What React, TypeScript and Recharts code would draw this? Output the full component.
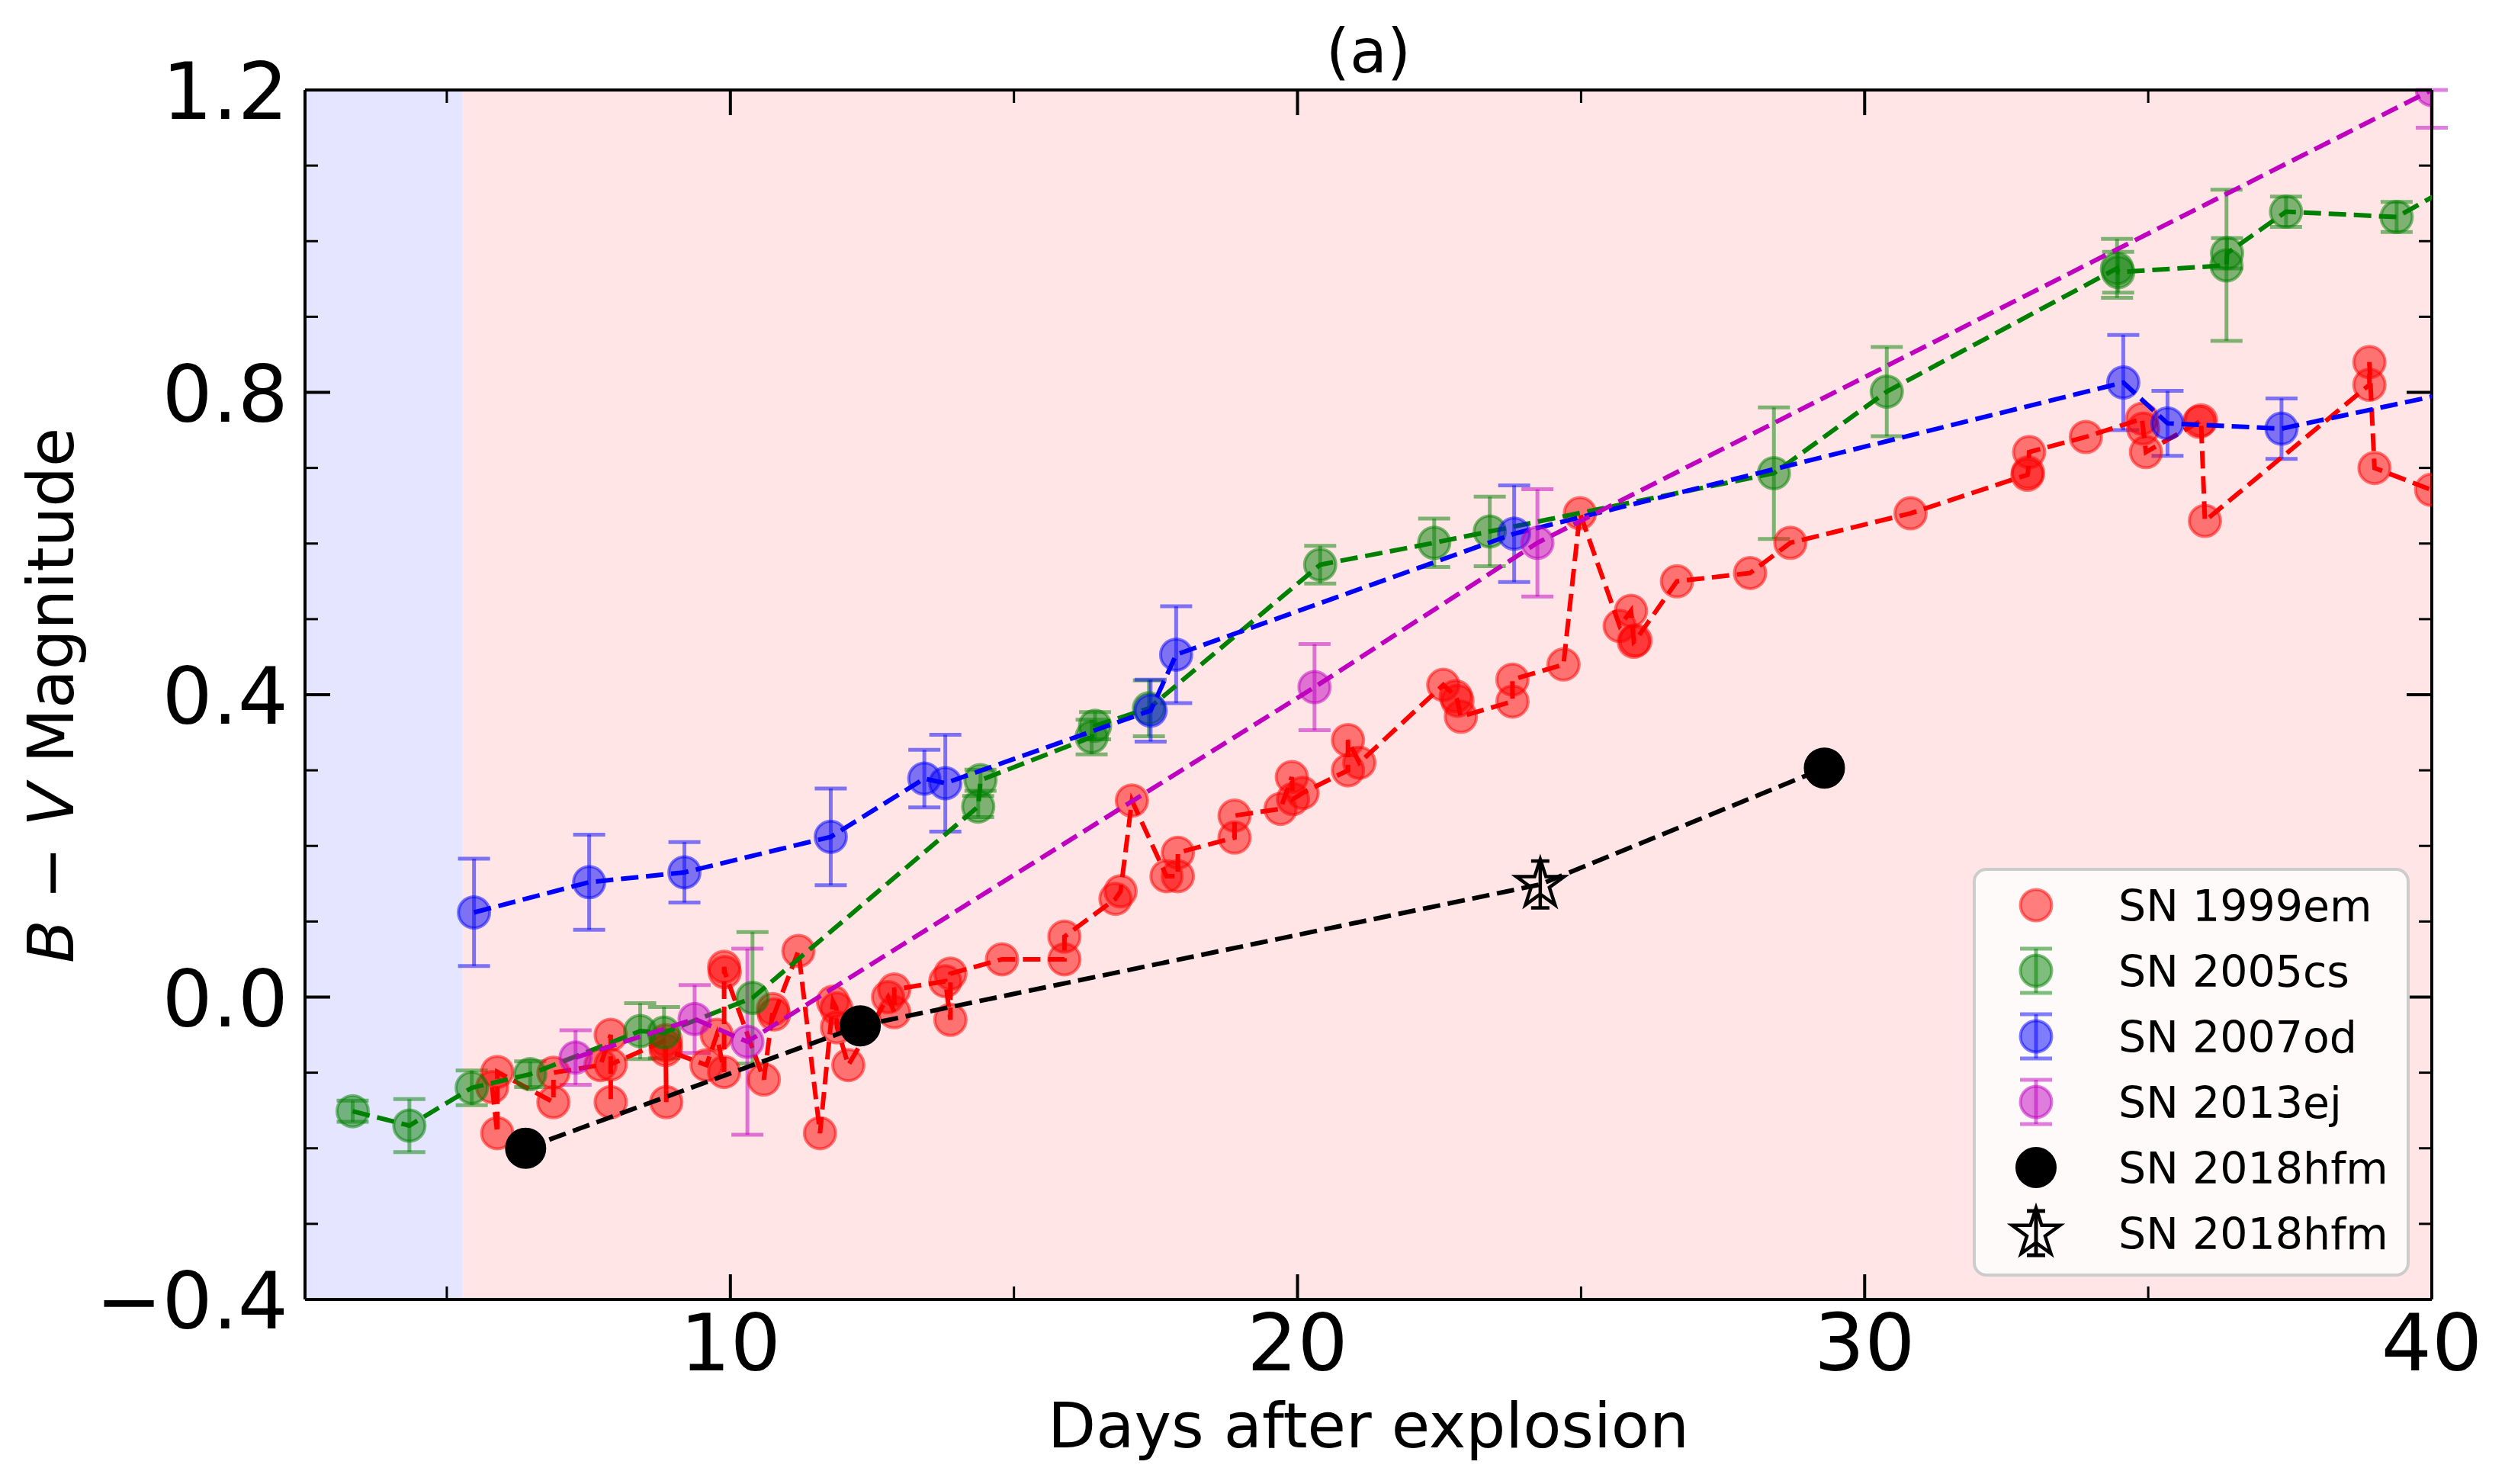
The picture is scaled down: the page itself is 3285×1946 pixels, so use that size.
import React from 'react'
import { ScatterChart, Scatter, XAxis, YAxis, ErrorBar, ReferenceArea, Legend, Label } from 'recharts'

// plot box in page pixels
const W = 3285
const H = 1946
const LEFT = 400
const RIGHT = 3189
const TOP = 118
const BOTTOM = 1704
const FONT = '"DejaVu Sans", Verdana, sans-serif'

const RED = '#ff0000'
const GREEN = '#008000'
const BLUE = '#0000ff'
const MAGENTA = '#bf00bf'
const BLACK = '#000000'

const xDomain = [2.5, 40]
const yDomain = [-0.4, 1.2]
const xTicks = [5, 10, 15, 20, 25, 30, 35, 40]
const xMajor = [10, 20, 30, 40]
const yTicks = [-0.4, -0.3, -0.2, -0.1, 0, 0.1, 0.2, 0.3, 0.4, 0.5, 0.6, 0.7, 0.8, 0.9, 1.0, 1.1, 1.2]
const yMajor = [-0.4, 0, 0.4, 0.8, 1.2]

// shaded phases (days)
const phaseBlue = [2.5, 5.28]
const phasePink = [5.28, 40]

const sn1999em = [
  { x: 5.80, y: -0.119 }, { x: 5.89, y: -0.180 }, { x: 5.89, y: -0.099 },
  { x: 6.88, y: -0.139 }, { x: 6.88, y: -0.100 }, { x: 7.71, y: -0.090 },
  { x: 7.89, y: -0.050 }, { x: 7.89, y: -0.139 }, { x: 7.89, y: -0.089 },
  { x: 8.86, y: -0.057 }, { x: 8.87, y: -0.139 }, { x: 8.86, y: -0.064 },
  { x: 8.86, y: -0.070 }, { x: 9.58, y: -0.090 }, { x: 9.76, y: -0.050 },
  { x: 9.89, y: -0.099 }, { x: 9.89, y: 0.040 }, { x: 9.90, y: 0.033 },
  { x: 10.59, y: -0.109 }, { x: 10.75, y: -0.016 }, { x: 10.77, y: -0.023 },
  { x: 11.20, y: 0.061 }, { x: 11.58, y: -0.180 }, { x: 11.81, y: -0.006 },
  { x: 11.87, y: -0.015 }, { x: 11.88, y: -0.040 }, { x: 12.08, y: -0.090 },
  { x: 12.78, y: 0.000 }, { x: 12.89, y: -0.020 }, { x: 12.89, y: 0.010 },
  { x: 13.79, y: 0.021 }, { x: 13.88, y: -0.030 }, { x: 13.88, y: 0.031 },
  { x: 14.79, y: 0.050 }, { x: 15.89, y: 0.050 }, { x: 15.89, y: 0.080 },
  { x: 16.79, y: 0.130 }, { x: 16.88, y: 0.140 }, { x: 17.08, y: 0.260 },
  { x: 17.69, y: 0.160 }, { x: 17.89, y: 0.160 }, { x: 17.89, y: 0.191 },
  { x: 18.89, y: 0.211 }, { x: 18.89, y: 0.240 }, { x: 19.70, y: 0.249 },
  { x: 19.90, y: 0.291 }, { x: 19.92, y: 0.262 }, { x: 20.09, y: 0.270 },
  { x: 20.89, y: 0.300 }, { x: 20.89, y: 0.340 }, { x: 21.09, y: 0.310 },
  { x: 22.57, y: 0.413 }, { x: 22.79, y: 0.398 }, { x: 22.82, y: 0.392 },
  { x: 22.88, y: 0.371 }, { x: 23.79, y: 0.391 }, { x: 23.79, y: 0.420 },
  { x: 24.69, y: 0.440 }, { x: 24.98, y: 0.640 }, { x: 25.68, y: 0.491 },
  { x: 25.88, y: 0.511 }, { x: 25.93, y: 0.470 }, { x: 25.96, y: 0.472 },
  { x: 26.69, y: 0.550 }, { x: 27.98, y: 0.561 }, { x: 28.69, y: 0.601 },
  { x: 30.81, y: 0.640 }, { x: 32.87, y: 0.691 }, { x: 32.88, y: 0.694 },
  { x: 32.90, y: 0.721 }, { x: 33.90, y: 0.741 }, { x: 34.89, y: 0.765 },
  { x: 34.91, y: 0.752 }, { x: 34.96, y: 0.721 }, { x: 35.90, y: 0.761 },
  { x: 35.93, y: 0.763 }, { x: 36.00, y: 0.630 }, { x: 38.90, y: 0.810 },
  { x: 38.90, y: 0.840 }, { x: 38.99, y: 0.700 }, { x: 39.99, y: 0.671 },
]

// err left out where the point sits past the right edge
const sn2005cs = [
  { x: 3.34, y: -0.151, err: 0.014 }, { x: 4.34, y: -0.170, err: 0.035 },
  { x: 5.44, y: -0.120, err: 0.023 }, { x: 6.47, y: -0.102, err: 0.017 },
  { x: 8.41, y: -0.045, err: 0.037 }, { x: 8.83, y: -0.047, err: 0.034 },
  { x: 10.39, y: -0.001, err: 0.087 }, { x: 14.37, y: 0.252, err: 0.014 },
  { x: 14.41, y: 0.287, err: 0.014 }, { x: 16.37, y: 0.344, err: 0.023 },
  { x: 16.43, y: 0.359, err: 0.018 }, { x: 17.38, y: 0.382, err: 0.037 },
  { x: 20.40, y: 0.572, err: 0.025 }, { x: 22.41, y: 0.601, err: 0.032 },
  { x: 23.39, y: 0.616, err: 0.046 }, { x: 28.40, y: 0.693, err: 0.087 },
  { x: 30.39, y: 0.801, err: 0.059 }, { x: 34.45, y: 0.964, err: 0.039 },
  { x: 34.47, y: 0.959, err: 0.027 }, { x: 36.38, y: 0.968, err: 0.100 },
  { x: 36.39, y: 0.984, err: 0.020 }, { x: 37.43, y: 1.039, err: 0.020 },
  { x: 39.38, y: 1.032, err: 0.020 }, { x: 40.50, y: 1.079 },
]

const sn2007od = [
  { x: 5.48, y: 0.112, err: 0.071 }, { x: 7.51, y: 0.152, err: 0.063 },
  { x: 9.19, y: 0.165, err: 0.040 }, { x: 11.77, y: 0.212, err: 0.064 },
  { x: 13.42, y: 0.289, err: 0.038 }, { x: 13.79, y: 0.283, err: 0.064 },
  { x: 17.41, y: 0.379, err: 0.041 }, { x: 17.86, y: 0.453, err: 0.064 },
  { x: 23.82, y: 0.613, err: 0.064 }, { x: 34.56, y: 0.813, err: 0.063 },
  { x: 35.34, y: 0.759, err: 0.043 }, { x: 37.35, y: 0.752, err: 0.040 },
  { x: 41.30, y: 0.815 },
]

// last point sits on the top-right corner: only the lower half of its bar is inside
const sn2013ej = [
  { x: 7.27, y: -0.080, err: 0.036 }, { x: 9.37, y: -0.029, err: 0.045 },
  { x: 10.30, y: -0.059, err: 0.123 }, { x: 20.30, y: 0.410, err: 0.057 },
  { x: 24.23, y: 0.601, err: 0.071 }, { x: 40.0, y: 1.200, err: [0.05, 0] },
]

const sn2018hfmDots = [
  { x: 6.39, y: -0.200 }, { x: 12.29, y: -0.038 }, { x: 29.29, y: 0.303 },
]
const sn2018hfmStar = [{ x: 24.28, y: 0.149, err: 0.031 }]

const hfmPath = [...sn2018hfmDots, ...sn2018hfmStar].sort((a, b) => a.x - b.x)

const legendRows = [
  { name: 'SN 1999em', color: RED, kind: 'dot', bar: false },
  { name: 'SN 2005cs', color: GREEN, kind: 'dot', bar: true },
  { name: 'SN 2007od', color: BLUE, kind: 'dot', bar: true },
  { name: 'SN 2013ej', color: MAGENTA, kind: 'dot', bar: true },
  { name: 'SN 2018hfm', color: BLACK, kind: 'big', bar: false },
  { name: 'SN 2018hfm', color: BLACK, kind: 'star', bar: true },
]

const dashed = (color: string) => ({ stroke: color, strokeWidth: 6, strokeDasharray: '23 10', fill: 'none' })

const starPoints = (cx: number, cy: number, R: number) => {
  const r = R * 0.382
  const pts: string[] = []
  for (let i = 0; i < 10; i++) {
    const a = (Math.PI / 5) * i - Math.PI / 2
    const rr = i % 2 === 0 ? R : r
    pts.push(`${cx + rr * Math.cos(a)},${cy + rr * Math.sin(a)}`)
  }
  return pts.join(' ')
}

const dot = (color: string) => (p: any) => (
  <circle cx={p.cx} cy={p.cy} r={20.5} fill={color} fillOpacity={0.5}
    stroke={color} strokeOpacity={0.5} strokeWidth={4} />
)

const hfmShape = (p: any) => {
  if (p.payload && p.payload.err !== undefined) return <g />
  return <circle cx={p.cx} cy={p.cy} r={25.5} fill={BLACK} stroke={BLACK} strokeWidth={3} />
}

const starShape = (p: any) => (
  <polygon points={starPoints(p.cx, p.cy, 33)} fill="none" stroke={BLACK} strokeWidth={4.5} strokeLinejoin="miter" />
)

const isMajorY = (v: number) => yMajor.some((m) => Math.abs(m - v) < 1e-9)
const fmtY = (v: number) => (Math.abs(v) < 1e-9 ? '0.0' : v < 0 ? `\u2212${Math.abs(v).toFixed(1)}` : v.toFixed(1))

const BottomTick = (props: any) => {
  const { x, payload } = props
  const major = xMajor.includes(payload.value)
  return (
    <g>
      <line x1={x} x2={x} y1={BOTTOM} y2={BOTTOM - (major ? 33 : 17)} stroke={BLACK} strokeWidth={major ? 4 : 3} />
      {major && (
        <text x={x} y={1797} textAnchor="middle" fontSize={104} fontFamily={FONT} fill={BLACK}>
          {payload.value}
        </text>
      )}
    </g>
  )
}

const TopTick = (props: any) => {
  const { x, payload } = props
  const major = xMajor.includes(payload.value)
  return <line x1={x} x2={x} y1={TOP} y2={TOP + (major ? 33 : 17)} stroke={BLACK} strokeWidth={major ? 4 : 3} />
}

const LeftTick = (props: any) => {
  const { y, payload } = props
  const major = isMajorY(payload.value)
  return (
    <g>
      <line x1={LEFT} x2={LEFT + (major ? 33 : 17)} y1={y} y2={y} stroke={BLACK} strokeWidth={major ? 4 : 3} />
      {major && (
        <text x={378} y={y + 38} textAnchor="end" fontSize={104} fontFamily={FONT} fill={BLACK}>
          {fmtY(payload.value)}
        </text>
      )}
    </g>
  )
}

const RightTick = (props: any) => {
  const { y, payload } = props
  const major = isMajorY(payload.value)
  return <line x1={RIGHT} x2={RIGHT - (major ? 33 : 17)} y1={y} y2={y} stroke={BLACK} strokeWidth={major ? 4 : 3} />
}

const LegendBox = () => {
  const cx = 83
  return (
    <svg width={573} height={536} style={{ display: 'block' }}>
      <rect x={2} y={2} width={569} height={532} rx={16} fill="#fffafa" stroke="#cccccc" strokeWidth={4} />
      {legendRows.map((row, i) => {
        const cy = 49 + i * 86
        const cap = row.kind === 'star' ? 12 : 21
        return (
          <g key={i}>
            {row.bar && (
              <g stroke={row.color} strokeOpacity={row.kind === 'star' ? 1 : 0.5} strokeWidth={5}>
                <line x1={cx} x2={cx} y1={cy - 29} y2={cy + 29} />
                <line x1={cx - cap} x2={cx + cap} y1={cy - 29} y2={cy - 29} />
                <line x1={cx - cap} x2={cx + cap} y1={cy + 29} y2={cy + 29} />
              </g>
            )}
            {row.kind === 'dot' && dot(row.color)({ cx, cy })}
            {row.kind === 'big' && <circle cx={cx} cy={cy} r={25.5} fill={BLACK} stroke={BLACK} strokeWidth={3} />}
            {row.kind === 'star' && starShape({ cx, cy })}
            <text x={191} y={cy + 21} fontSize={57} fontFamily={FONT} fill={BLACK}>{row.name}</text>
          </g>
        )
      })}
    </svg>
  )
}

const axisLine = { stroke: BLACK, strokeWidth: 4 }

export default function App() {
  return (
    <div style={{ position: 'absolute', left: 0, top: 0, width: W, height: H, background: '#ffffff' }}>
      <ScatterChart
        width={W}
        height={H}
        margin={{ top: TOP - 1, right: W - RIGHT - 1, bottom: H - BOTTOM - 1, left: LEFT - 1 }}
      >
        <ReferenceArea x1={phaseBlue[0]} x2={phaseBlue[1]} y1={yDomain[0]} y2={yDomain[1]}
          fill="#e5e5ff" fillOpacity={1} stroke="none" ifOverflow="hidden" />
        <ReferenceArea x1={phasePink[0]} x2={phasePink[1]} y1={yDomain[0]} y2={yDomain[1]}
          fill="#ffe5e5" fillOpacity={1} stroke="none" ifOverflow="hidden" />

        <XAxis type="number" dataKey="x" xAxisId={0} domain={xDomain} ticks={xTicks} interval={0}
          allowDataOverflow height={1} tick={<BottomTick />} tickLine={false} axisLine={axisLine}>
          <Label content={() => (
            <text x={(LEFT + RIGHT) / 2} y={1898} textAnchor="middle" fontSize={82} fontFamily={FONT} fill={BLACK}>
              Days after explosion
            </text>
          )} />
        </XAxis>
        <XAxis type="number" dataKey="x" xAxisId="top" orientation="top" domain={xDomain} ticks={xTicks} interval={0}
          allowDataOverflow height={1} tick={<TopTick />} tickLine={false} axisLine={axisLine}>
          <Label content={() => (
            <text x={(LEFT + RIGHT) / 2} y={95} textAnchor="middle" fontSize={80} fontFamily={FONT} fill={BLACK}>
              (a)
            </text>
          )} />
        </XAxis>
        <YAxis type="number" dataKey="y" yAxisId={0} domain={yDomain} ticks={yTicks} interval={0}
          allowDataOverflow width={1} tick={<LeftTick />} tickLine={false} axisLine={axisLine}>
          <Label content={() => (
            <text x={96} y={912} transform="rotate(-90 96 912)" textAnchor="middle" fontSize={83} fontFamily={FONT} fill={BLACK}>
              <tspan fontStyle="italic">B</tspan>
              <tspan> {'\u2212'} </tspan>
              <tspan fontStyle="italic">V</tspan>
              <tspan> Magnitude</tspan>
            </text>
          )} />
        </YAxis>
        <YAxis type="number" dataKey="y" yAxisId="right" orientation="right" domain={yDomain} ticks={yTicks} interval={0}
          allowDataOverflow width={1} tick={<RightTick />} tickLine={false} axisLine={axisLine} />

        <Scatter name="SN 1999em" data={sn1999em} fill={RED} line={dashed(RED)} lineType="joint"
          shape={dot(RED)} isAnimationActive={false} />

        <Scatter name="SN 2005cs" data={sn2005cs} fill={GREEN} line={dashed(GREEN)} lineType="joint"
          shape={dot(GREEN)} isAnimationActive={false}>
          <ErrorBar dataKey="err" direction="y" width={21} stroke={GREEN} strokeOpacity={0.5} strokeWidth={5} isAnimationActive={false} />
        </Scatter>

        <Scatter name="SN 2007od" data={sn2007od} fill={BLUE} line={dashed(BLUE)} lineType="joint"
          shape={dot(BLUE)} isAnimationActive={false}>
          <ErrorBar dataKey="err" direction="y" width={21} stroke={BLUE} strokeOpacity={0.5} strokeWidth={5} isAnimationActive={false} />
        </Scatter>

        <Scatter name="SN 2013ej" data={sn2013ej} fill={MAGENTA} line={dashed(MAGENTA)} lineType="joint"
          shape={dot(MAGENTA)} isAnimationActive={false}>
          <ErrorBar dataKey="err" direction="y" width={21} stroke={MAGENTA} strokeOpacity={0.5} strokeWidth={5} isAnimationActive={false} />
        </Scatter>

        <Scatter name="SN 2018hfm" data={hfmPath} fill={BLACK} line={dashed(BLACK)} lineType="joint"
          shape={hfmShape} isAnimationActive={false} />

        <Scatter name="SN 2018hfm star" data={sn2018hfmStar} fill="none" shape={starShape} isAnimationActive={false}>
          <ErrorBar dataKey="err" direction="y" width={12} stroke={BLACK} strokeWidth={4.5} isAnimationActive={false} />
        </Scatter>

        <Legend content={<LegendBox />} layout="horizontal" verticalAlign="middle" align="center"
          wrapperStyle={{ left: 2587, top: 1138, width: 573, height: 536, margin: 0, padding: 0 }} />
      </ScatterChart>
    </div>
  )
}
